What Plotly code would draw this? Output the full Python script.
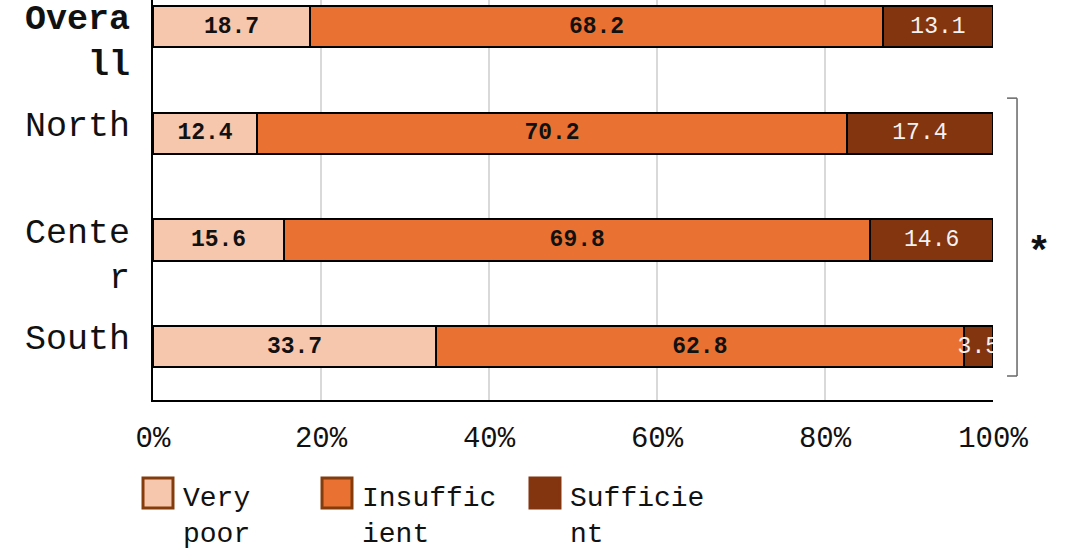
import plotly.graph_objects as go

categories = ["Overall", "North", "Center", "South"]
tick_labels = ["<b>Overa<br>ll</b>", "North<br>&nbsp;", "Cente<br>r", "South<br>&nbsp;"]
series_names = ["Very poor", "Insufficient", "Sufficient"]
legend_labels = ["Very<br>poor", "Insuffic<br>ient", "Sufficie<br>nt"]
very_poor = [18.7, 12.4, 15.6, 33.7]
insufficient = [68.2, 70.2, 69.8, 62.8]
sufficient = [13.1, 17.4, 14.6, 3.5]
x_ticks = [0, 20, 40, 60, 80, 100]
x_tick_text = [f"{v}%" for v in x_ticks]

FONT = "Liberation Mono"
colors = ["#F6C6AD", "#E97132", "#833510"]
text_fonts = [
    dict(family=FONT, size=23, color="#111111", weight="bold"),
    dict(family=FONT, size=23, color="#111111", weight="bold"),
    dict(family=FONT, size=23, color="#F2F2F2"),
]

fig = go.Figure()
for name, vals, col, tf in zip(series_names, [very_poor, insufficient, sufficient], colors, text_fonts):
    fig.add_trace(go.Bar(
        y=categories, x=vals, name=name, orientation="h",
        marker=dict(color=col, line=dict(color="#000000", width=2)),
        text=[f"{v:.1f}" for v in vals], texttemplate="%{text}",
        textposition="inside", insidetextanchor="middle", textangle=0,
        constraintext="none", textfont=tf, width=0.39,
        showlegend=False, cliponaxis=True,
    ))

fig.update_layout(
    barmode="stack",
    width=1069, height=549,
    margin=dict(l=153, r=76, t=0, b=149),
    paper_bgcolor="white", plot_bgcolor="white",
    font=dict(family=FONT, color="#111111"),
    xaxis=dict(
        range=[0, 100], tickvals=x_ticks, ticktext=x_tick_text,
        showgrid=True, gridcolor="#D9D9D9", gridwidth=2,
        showline=True, linecolor="#000000", linewidth=2,
        ticks="", tickfont=dict(family=FONT, size=29, color="#111111"),
        ticklabelstandoff=10, zeroline=False, automargin=False,
    ),
    yaxis=dict(
        type="category", categoryorder="array", categoryarray=categories[::-1],
        range=[-0.5, 3.25], tickvals=categories, ticktext=tick_labels,
        showline=True, linecolor="#000000", linewidth=2,
        ticks="", tickfont=dict(family=FONT, size=35, color="#111111"),
        ticklabelstandoff=14, ticklabelshift=13,
        showgrid=False, zeroline=False, automargin=False,
    ),
)

# significance bracket (North..South)
bx, btick = 1.0286, 1.0167
for (x0, y0, x1, y1) in [(bx, 2.33, bx, -0.275), (btick, 2.33, bx, 2.33), (btick, -0.275, bx, -0.275)]:
    fig.add_shape(type="line", xref="paper", yref="y", x0=x0, y0=y0, x1=x1, y1=y1,
                  line=dict(color="#666666", width=1.5))
fig.add_annotation(xref="paper", yref="y", x=1.038, y=0.865, xanchor="left", text="<b>*</b>",
                   showarrow=False, font=dict(family=FONT, size=40, color="#111111"))

# custom legend
leg_x = [-0.0119, 0.2012, 0.4488]
leg_line = ["#843C0C", "#843C0C", colors[2]]
for lx, lab, col, lc in zip(leg_x, legend_labels, colors, leg_line):
    fig.add_shape(type="rect", xref="paper", yref="paper",
                  x0=lx, x1=lx + 0.0357, y0=-0.195, y1=-0.27,
                  fillcolor=col, line=dict(color=lc, width=3))
    fig.add_annotation(xref="paper", yref="paper", x=lx + 0.0357 + 0.009, y=-0.2025,
                       xanchor="left", yanchor="top", align="left", text=lab,
                       showarrow=False, font=dict(family=FONT, size=28, color="#111111"))

fig.write_html("out.html", config={"displayModeBar": False},
               post_script="document.body.style.margin='0';")
